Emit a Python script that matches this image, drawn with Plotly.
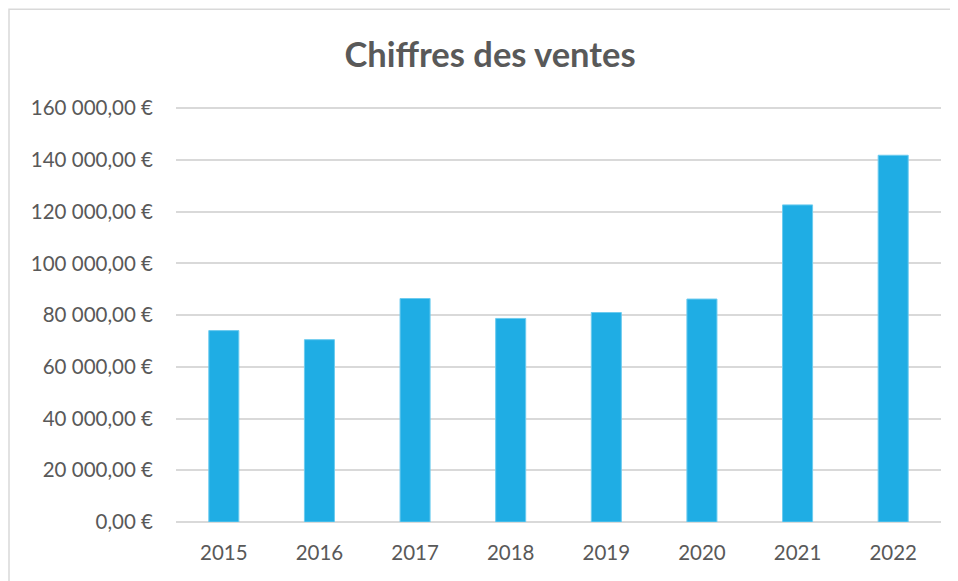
import plotly.graph_objects as go

years = ["2015", "2016", "2017", "2018", "2019", "2020", "2021", "2022"]
sales = [74000, 70500, 86400, 78700, 81000, 86200, 122600, 141800]
y_tick_values = [0, 20000, 40000, 60000, 80000, 100000, 120000, 140000, 160000]
y_tick_labels = ["0,00 €", "20 000,00 €", "40 000,00 €", "60 000,00 €", "80 000,00 €",
                 "100 000,00 €", "120 000,00 €", "140 000,00 €", "160 000,00 €"]

# the page body has an 8px margin, so the figure is laid out in its own coordinates
W, H = 950, 573
YMAX = 162000
L, R, B = 168, 17, 58.5
T = 100 - 414.5 * (YMAX - 160000) / 160000
pw, ph = W - L - R, H - T - B

FONT = "Lato, sans-serif"

fig = go.Figure(go.Bar(x=years, y=sales,
                       marker=dict(color="#1FADE4", line=dict(width=1, color="#6CCBEF"))))

def px2paper_x(p):
    return (p - L) / pw

def px2paper_y(p):
    return (H - B - p) / ph

fig.update_layout(
    width=W, height=H,
    margin=dict(l=L, r=R, t=T, b=B),
    paper_bgcolor="white", plot_bgcolor="white",
    bargap=0.686,
    showlegend=False,
    font=dict(family=FONT, color="#595959", size=20.5),
    title=dict(text="<b>Chiffres des ventes</b>", x=px2paper_x(482), xref="paper", xanchor="center",
               y=1 - 47 / H, yanchor="middle", font=dict(family=FONT, size=34.5, color="#595959")),
    xaxis=dict(type="category", showgrid=False, showline=False, ticks="", ticklabelstandoff=16,
               tickfont=dict(family=FONT, size=20.5, color="#595959")),
    yaxis=dict(range=[0, YMAX], tickmode="array", tickvals=y_tick_values, ticktext=y_tick_labels,
               gridcolor="#D9D9D9", gridwidth=1.5, zeroline=True, zerolinecolor="#D9D9D9",
               zerolinewidth=1.5, showline=False, ticks="", ticklabelstandoff=22,
               tickfont=dict(family=FONT, size=20.5, color="#595959")),
    shapes=[dict(type="rect", xref="paper", yref="paper",
                 x0=px2paper_x(1), x1=px2paper_x(980), y0=px2paper_y(600), y1=px2paper_y(1),
                 line=dict(color="#D9D9D9", width=1.5), fillcolor="rgba(0,0,0,0)", layer="below")],
)

fig.write_html("out.html")
